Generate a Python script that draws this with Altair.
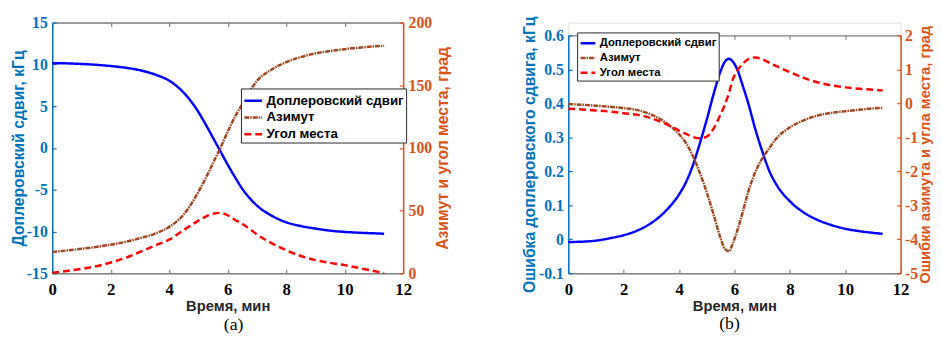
import altair as alt
import pandas as pd

# ---------------- data ----------------
series_names = ["Доплеровский сдвиг", "Азимут", "Угол места"]
series_colors = ["#0000FF", "#A0461E", "#FF0000"]
series_dash = [[1, 0], [5, 1, 1.5, 1], [7, 4]]

# panel (a): Doppler shift (kHz, left), azimuth & elevation (deg, right)
t_a = [0, 0.5, 1, 1.5, 2, 2.5, 3, 3.5, 4, 4.5, 5, 5.25, 5.5, 5.75, 6, 6.25,
       6.5, 6.75, 7, 7.5, 8, 8.5, 9, 9.5, 10, 10.5, 11, 11.35]
dop_a = [10.15, 10.12, 10.05, 9.95, 9.8, 9.6, 9.3, 8.8, 8.05, 6.6, 4.3, 2.8,
         1.2, -0.4, -2.0, -3.5, -4.9, -6.0, -6.9, -8.1, -8.9, -9.35, -9.65,
         -9.9, -10.05, -10.15, -10.22, -10.27]
az_a = [17, 18.2, 19.5, 21, 22.8, 25, 28, 31.5, 37, 47, 65, 76, 88, 100, 113,
        125, 135, 145, 153.5, 162.5, 168.5, 172.5, 175.5, 177.3, 178.8, 180,
        181, 181.5]
el_a = [0.3, 1.8, 3.6, 5.6, 8.6, 12.3, 17.0, 22.0, 26.8, 34.5, 42, 45.2, 47.5,
        48.2, 46.3, 42.5, 39.5, 35.3, 31, 24, 18.4, 13.8, 10.5, 8.3, 6.5, 4.2,
        1.8, 0.2]

# panel (b): errors
t_b = [0, 0.5, 1, 1.5, 2, 2.5, 3, 3.5, 4, 4.25, 4.5, 4.75, 5, 5.25, 5.5, 5.65,
       5.8, 5.95, 6.1, 6.3, 6.5, 6.75, 7, 7.25, 7.5, 8, 8.5, 9, 9.5, 10, 10.5,
       11, 11.35]
dop_b = [-0.008, -0.007, -0.004, 0.003, 0.012, 0.026, 0.048, 0.082, 0.132,
         0.168, 0.218, 0.282, 0.352, 0.428, 0.495, 0.522, 0.531, 0.522, 0.5,
         0.452, 0.4, 0.325, 0.26, 0.203, 0.163, 0.112, 0.079, 0.057, 0.042,
         0.031, 0.024, 0.019, 0.016]
az_b = [-0.02, -0.04, -0.07, -0.1, -0.14, -0.2, -0.33, -0.56, -0.91, -1.17,
        -1.55, -2.05, -2.62, -3.28, -3.97, -4.28, -4.35, -4.1, -3.75, -3.2,
        -2.6, -2.03, -1.63, -1.33, -1.05, -0.71, -0.5, -0.36, -0.28, -0.23,
        -0.19, -0.15, -0.13]
el_b = [-0.16, -0.18, -0.21, -0.24, -0.29, -0.34, -0.44, -0.6, -0.8, -0.9,
        -0.99, -1.03, -0.98, -0.74, -0.32, -0.05, 0.3, 0.72, 0.96, 1.16, 1.3,
        1.35, 1.3, 1.2, 1.1, 0.92, 0.75, 0.62, 0.53, 0.47, 0.43, 0.4, 0.38]

x_ticks = [0, 2, 4, 6, 8, 10, 12]
ya_left_ticks = [-15, -10, -5, 0, 5, 10, 15]
ya_right_ticks = [0, 50, 100, 150, 200]
yb_left_ticks = [-0.1, 0, 0.1, 0.2, 0.3, 0.4, 0.5, 0.6]
yb_right_ticks = [-5, -4, -3, -2, -1, 0, 1, 2]

x_title = "Время, мин"

# ---------------- style ----------------
GRAY = "#808080"
BLUE_AX = "#0072BD"
ORANGE_AX = "#D95319"
SANS = "Liberation Sans"
SERIF = "Liberation Serif"


def frame(t, v, name):
    return pd.DataFrame({"t": t, "v": v, "series": name})


def color_enc(leg):
    return alt.Color("series:N", scale=alt.Scale(domain=series_names, range=series_colors), legend=leg)


def dash_enc(leg):
    return alt.StrokeDash("series:N", scale=alt.Scale(domain=series_names, range=series_dash), legend=leg)


def legend(x, y, fs, sym):
    return alt.Legend(title=None, orient="none", legendX=x, legendY=y,
                      fillColor="white", strokeColor="#262626", padding=2,
                      labelFont=SANS, labelFontSize=fs, labelFontWeight="bold",
                      labelColor="black", symbolType="stroke", symbolSize=sym,
                      symbolStrokeWidth=2.5, labelOffset=3, rowPadding=0,
                      cornerRadius=0, labelLimit=400)


def x_axis(kind, top_off):
    if kind == "main":
        return alt.Axis(orient="bottom", values=x_ticks, title=x_title,
                        titleFont=SANS, titleFontWeight="bold", titleFontSize=15,
                        titleColor="#262626", titlePadding=1,
                        labelFont=SERIF, labelFontWeight="bold", labelFontSize=17,
                        labelColor="black", labelPadding=9, labelFlush=False,
                        labelOverlap=False, labelExpr="toString(datum.value)",
                        ticks=False, tickSize=0, domain=True, domainColor=GRAY,
                        domainWidth=1.5, grid=False, offset=0)
    if kind == "bticks":
        return alt.Axis(orient="bottom", values=x_ticks, title=None, labels=False,
                        domain=False, ticks=True, tickSize=4, tickColor=GRAY,
                        tickWidth=1.2, grid=False, offset=-4)
    if kind == "top":
        return alt.Axis(orient="top", values=x_ticks, title=None, labels=False,
                        domain=True, domainColor=GRAY, domainWidth=1.5,
                        ticks=False, tickSize=0, grid=False, offset=-top_off)
    return alt.Axis(orient="top", values=x_ticks, title=None, labels=False,
                    domain=False, ticks=True, tickSize=4, tickColor=GRAY,
                    tickWidth=1.2, grid=False, offset=-top_off - 4)


def y_axis(kind, side, ticks, title, color, tpad, fs_title, lpad):
    if kind == "main":
        extra = {}
        if side == "right":
            extra = dict(titleAngle=270, titleBaseline="top")
        return alt.Axis(orient=side, values=ticks, title=title, titleFont=SANS,
                        titleFontWeight="bold", titleFontSize=fs_title,
                        titleColor=color, titlePadding=tpad,
                        labelFont=SERIF, labelFontWeight="bold", labelFontSize=16,
                        labelColor=color, labelPadding=lpad, labelFlush=False,
                        labelOverlap=False, labelExpr="toString(datum.value)",
                        ticks=False, tickSize=0, domain=True, domainColor=color,
                        domainWidth=1.5, grid=False, offset=0, **extra)
    return alt.Axis(orient=side, values=ticks, title=None, labels=False,
                    domain=False, ticks=True, tickSize=4, tickColor=color,
                    tickWidth=1.2, grid=False, offset=-4)


def panel(t, left_v, az_v, el_v, left_dom, right_dom, left_ticks, right_ticks,
          left_title, right_title, top_off, rng, leg, caption, cap_off, cap_dx,
          w, h, tpl, tpr, fsl, fsr, lpr):
    xs = alt.Scale(domain=[0, 12], nice=False, zero=False)
    ls_kw = dict(domain=left_dom, nice=False, zero=False)
    rs_kw = dict(domain=right_dom, nice=False, zero=False)
    if rng is not None:
        ls_kw["range"] = rng
        rs_kw["range"] = rng
    ls = alt.Scale(**ls_kw)
    rs = alt.Scale(**rs_kw)

    d_left = frame(t, left_v, series_names[0])
    d_az = frame(t, az_v, series_names[1])
    d_el = frame(t, el_v, series_names[2])

    line_kw = dict(strokeWidth=2.5, interpolate="monotone")

    lb1 = alt.Chart(d_left).mark_line(**line_kw).encode(
        x=alt.X("t:Q", scale=xs, axis=x_axis("main", top_off)),
        y=alt.Y("v:Q", scale=ls, axis=y_axis("main", "left", left_ticks, left_title, BLUE_AX, tpl, fsl, 5)),
        color=color_enc(leg), strokeDash=dash_enc(leg))
    lb2 = alt.Chart(d_left).mark_line(strokeOpacity=0).encode(
        x=alt.X("t:Q", scale=xs, axis=x_axis("bticks", top_off)),
        y=alt.Y("v:Q", scale=ls, axis=y_axis("ticks", "left", left_ticks, None, BLUE_AX, 0, fsl, 5)))
    left_group = alt.layer(lb1, lb2).resolve_axis(x="independent", y="independent")

    lr1 = alt.Chart(d_az).mark_line(**line_kw).encode(
        x=alt.X("t:Q", scale=xs, axis=x_axis("top", top_off)),
        y=alt.Y("v:Q", scale=rs, axis=y_axis("main", "right", right_ticks, right_title, ORANGE_AX, tpr, fsr, lpr)),
        color=color_enc(leg), strokeDash=dash_enc(leg))
    lr2 = alt.Chart(d_el).mark_line(**line_kw).encode(
        x=alt.X("t:Q", scale=xs, axis=x_axis("tticks", top_off)),
        y=alt.Y("v:Q", scale=rs, axis=y_axis("ticks", "right", right_ticks, None, ORANGE_AX, 0, fsr, lpr)),
        color=color_enc(leg), strokeDash=dash_enc(leg))
    right_group = alt.layer(lr1, lr2).resolve_axis(x="independent", y="independent")

    return alt.layer(left_group, right_group).resolve_scale(
        y="independent").resolve_axis(x="independent", y="independent").properties(
        width=w, height=h,
        title=alt.TitleParams(caption, orient="bottom", font=SERIF, fontSize=18,
                              fontWeight="normal", color="black", offset=cap_off,
                              dx=cap_dx, anchor="middle"))


chart_a = panel(t_a, dop_a, az_a, el_a, [-15, 15], [0, 200], ya_left_ticks,
                ya_right_ticks, "Доплеровский сдвиг, кГц", "Азимут и угол места, град",
                0, None, legend(192, 67, 13.5, 324), "(a)", 3, 6, 357, 255, 0, 3,
                16, 16, 5)
chart_b = panel(t_b, dop_b, az_b, el_b, [-0.1, 0.6], [-5, 2], yb_left_ticks,
                yb_right_ticks, "Ошибка доплеровского сдвига, кГц",
                "Ошибки азимута и угла места, град",
                13, [255, 13], legend(9, 10, 11.5, 225), "(b)", 2, -5, 338, 255, 1, 0,
                16, 15, 4)

chart = alt.hconcat(chart_a, chart_b, spacing=168, bounds="flush").resolve_scale(
    x="independent", y="independent", color="independent", strokeDash="independent"
).resolve_legend(color="independent", strokeDash="independent").properties(
    padding={"left": 2, "top": 3, "right": 0, "bottom": 0}
).configure_view(stroke=None).configure(background="white")

chart.save("out.html", embed_options={"renderer": "svg", "actions": False})
